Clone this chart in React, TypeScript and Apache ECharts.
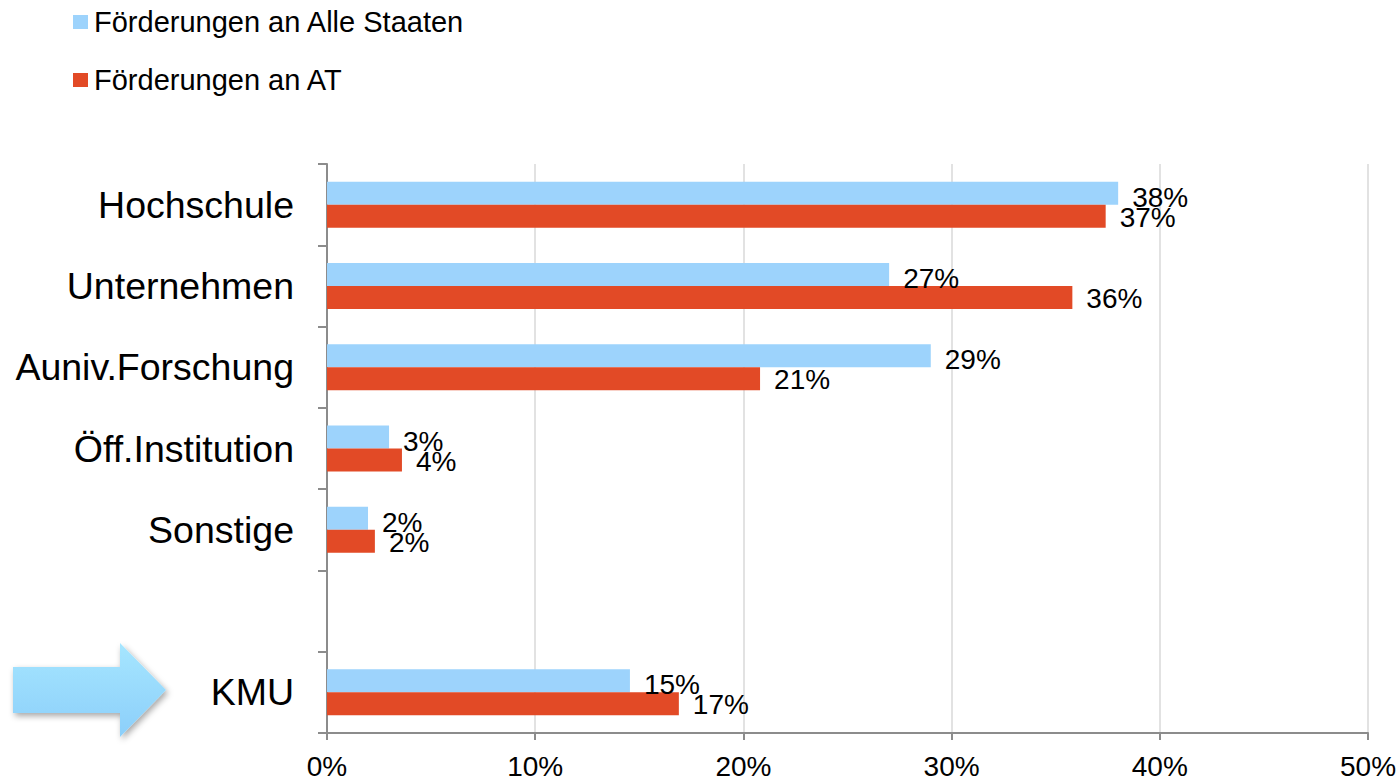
import React, { useEffect, useRef } from "react";
import * as echarts from "echarts";

const categories = ["Hochschule", "Unternehmen", "Auniv.Forschung", "Öff.Institution", "Sonstige", "", "KMU"];
const seriesNames = ["Förderungen an Alle Staaten", "Förderungen an AT"];
const allStaaten = [0.38, 0.27, 0.29, 0.0298, 0.0197, null, 0.1455];
const at = [0.374, 0.358, 0.208, 0.036, 0.023, null, 0.169];
const xTicks = [0, 0.1, 0.2, 0.3, 0.4, 0.5];

const FONT = "Liberation Sans, Arial, sans-serif";

export default function App() {
  const ref = useRef<HTMLDivElement>(null);
  useEffect(() => {
    const chart = echarts.init(ref.current!, null, { renderer: "svg" });
    const label = (dy: number) => ({
      show: true,
      position: "right",
      distance: 14,
      offset: [0, dy],
      color: "#000",
      fontFamily: FONT,
      fontSize: 28,
      formatter: (p: any) => Math.round(p.value * 100) + "%",
    });
    chart.setOption({
      animation: false,
      textStyle: { fontFamily: FONT },
      legend: {
        orient: "vertical",
        left: 73,
        top: 6,
        padding: 0,
        itemWidth: 15,
        itemHeight: 14,
        itemGap: 26,
        icon: "rect",
        textStyle: { fontFamily: FONT, fontSize: 29, color: "#000", lineHeight: 32, padding: [0, 0, 0, 1] },
        data: seriesNames,
      },
      grid: { left: 327, right: 32, top: 164, bottom: 48 },
      xAxis: {
        type: "value",
        min: xTicks[0],
        max: xTicks[xTicks.length - 1],
        interval: 0.1,
        axisLine: { show: true, lineStyle: { color: "#8c8c8c", width: 2 } },
        axisTick: { show: true, length: 7, lineStyle: { color: "#8c8c8c", width: 2 } },
        splitLine: { show: true, lineStyle: { color: "#d9d9d9", width: 1.5 } },
        axisLabel: {
          color: "#000",
          fontFamily: FONT,
          fontSize: 28,
          margin: 19,
          formatter: (v: number) => Math.round(v * 100) + "%",
        },
      },
      yAxis: {
        type: "category",
        data: categories,
        inverse: true,
        axisLine: { show: true, lineStyle: { color: "#8c8c8c", width: 2 } },
        axisTick: { show: true, length: 9, lineStyle: { color: "#8c8c8c", width: 2 } },
        axisLabel: { color: "#000", fontFamily: FONT, fontSize: 37.5, margin: 33 },
      },
      series: [
        {
          name: seriesNames[0],
          type: "bar",
          data: allStaaten,
          itemStyle: { color: "#9dd3fc" },
          barWidth: 23,
          barGap: "0%",
          label: label(4),
        },
        {
          name: seriesNames[1],
          type: "bar",
          data: at,
          itemStyle: { color: "#e24a26" },
          barWidth: 23,
          barGap: "0%",
          label: label(1),
        },
      ],
      graphic: [
        {
          type: "polygon",
          shape: {
            points: [
              [13, 667],
              [120, 667],
              [120, 643],
              [166, 690],
              [120, 737],
              [120, 713],
              [13, 713],
            ],
          },
          style: {
            fill: new echarts.graphic.LinearGradient(0, 0, 0, 1, [
              { offset: 0, color: "#a6e6ff" },
              { offset: 1, color: "#8ccffa" },
            ]),
            shadowBlur: 6,
            shadowOffsetX: 2,
            shadowOffsetY: 3,
            shadowColor: "rgba(0,0,0,0.35)",
          },
        },
      ],
    });
    return () => chart.dispose();
  }, []);
  return <div ref={ref} style={{ width: 1400, height: 781, position: "absolute", left: 0, top: 0 }} />;
}
